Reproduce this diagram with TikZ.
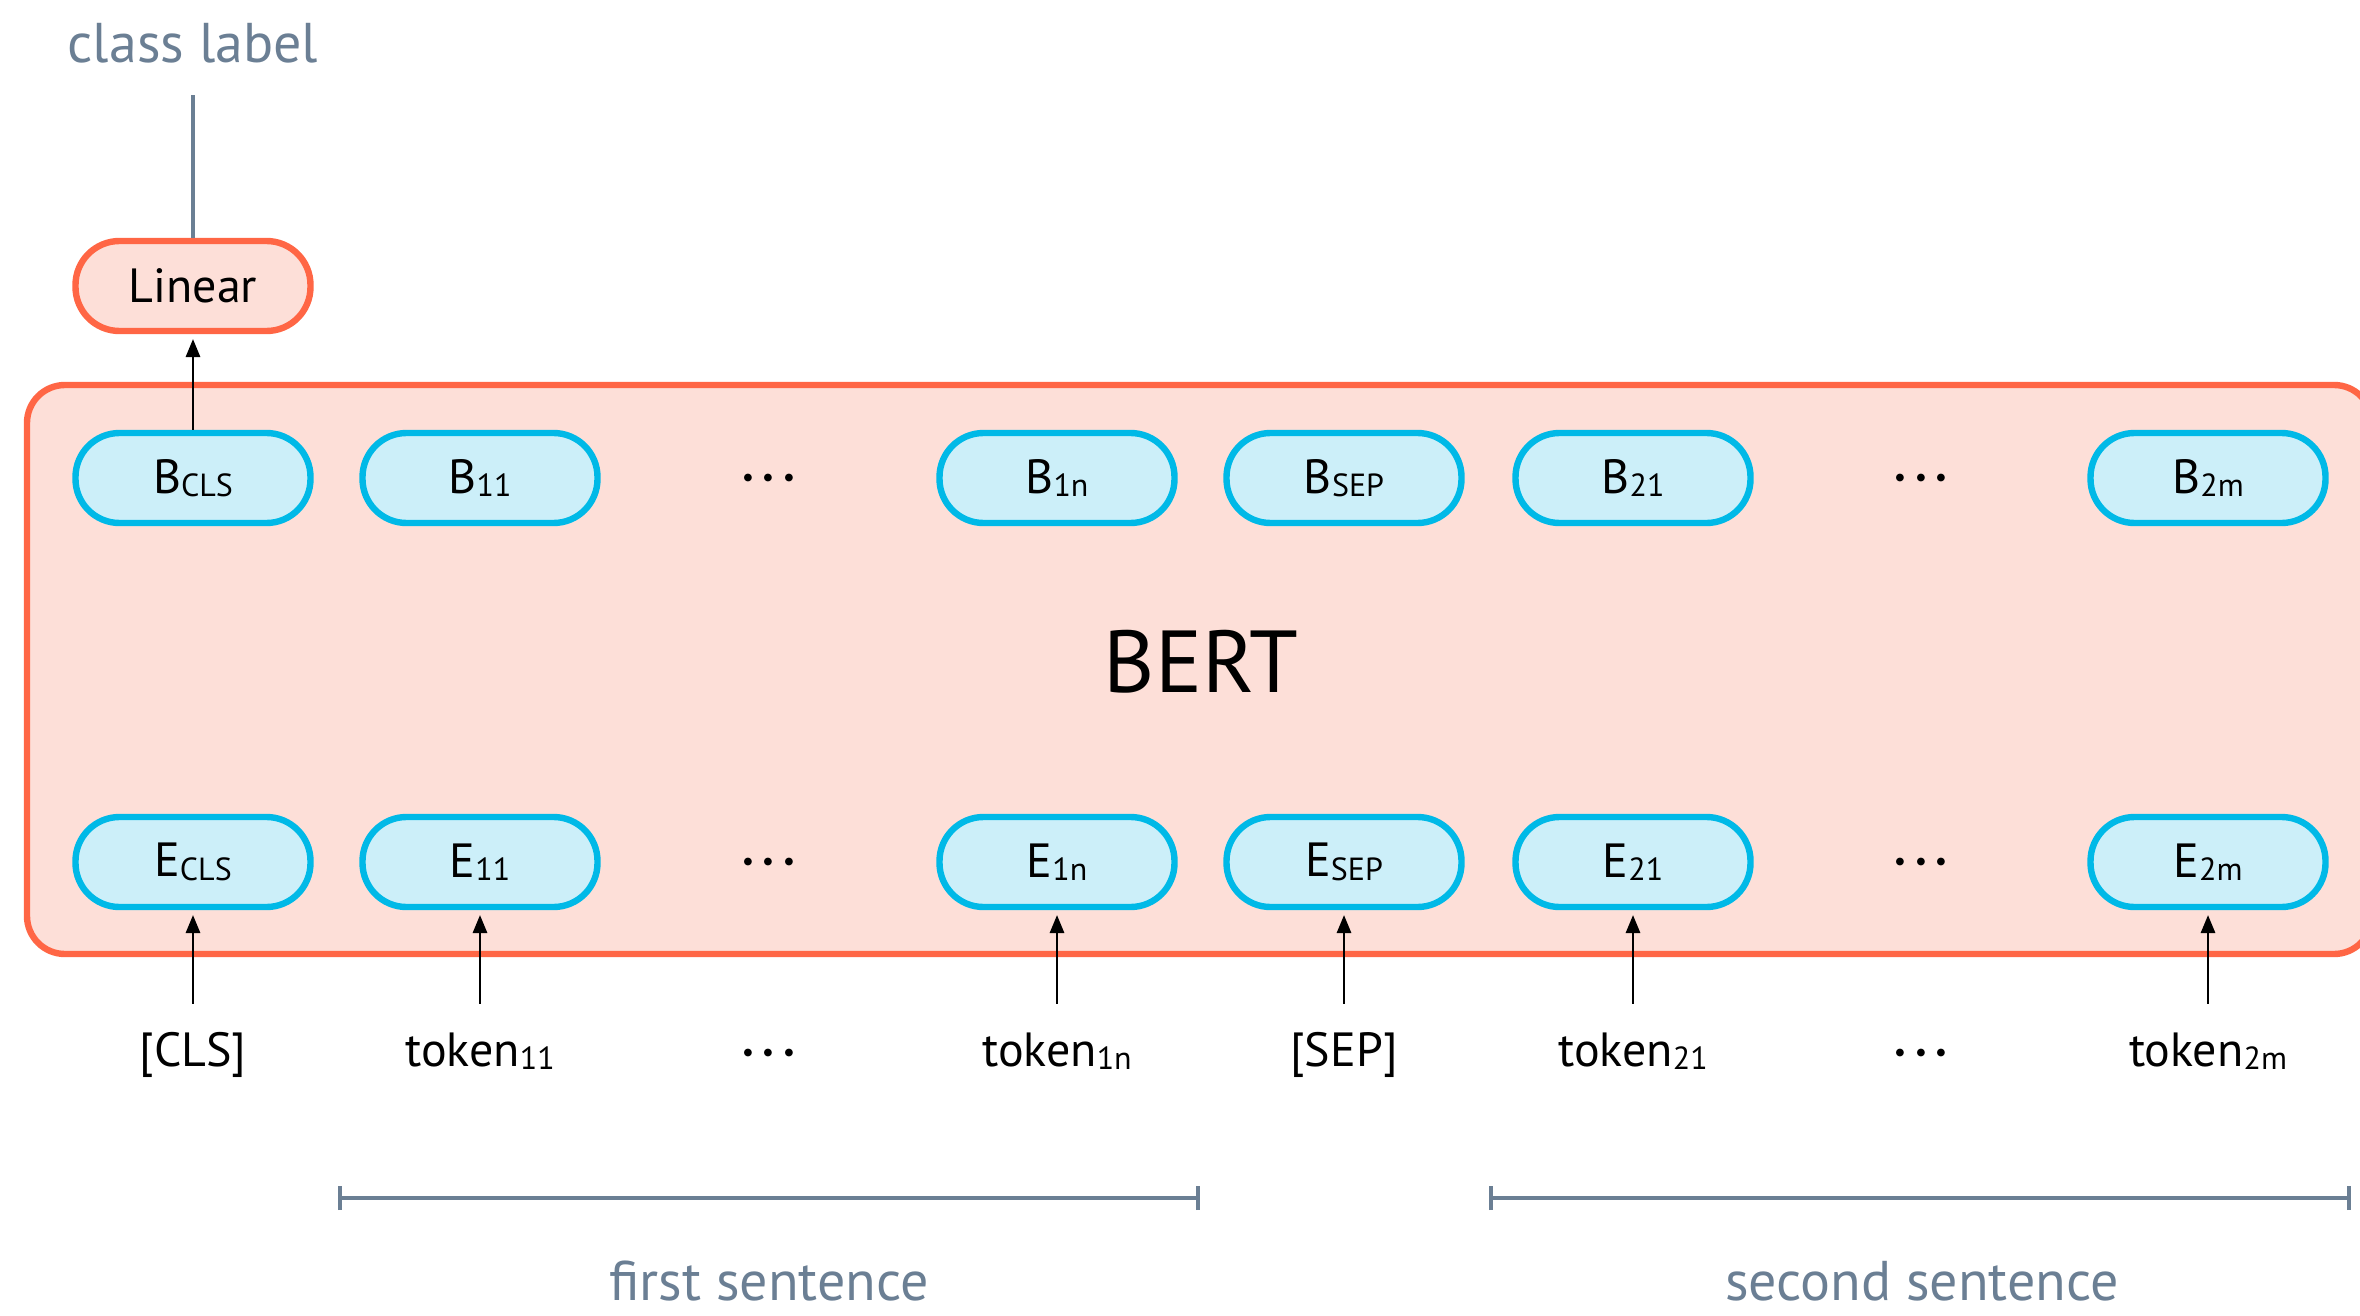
\documentclass[tikz,border=0pt]{standalone}
\usepackage{fontspec}
\setmainfont{PT Sans}
\usetikzlibrary{arrows.meta}
\definecolor{oborder}{HTML}{FF6645}
\definecolor{ofill}{HTML}{FDDFD8}
\definecolor{bborder}{HTML}{00B9E7}
\definecolor{bfill}{HTML}{CCEFF9}
\definecolor{graytxt}{HTML}{6B7F94}
\newcommand\sbs[1]{\raisebox{-1.8pt}{\fontsize{16}{18}\selectfont #1}}
\newcommand\mydots{${\cdot}\mkern1.5mu{\cdot}\mkern1.5mu{\cdot}$}
\tikzset{
  pill/.style={draw=bborder, fill=bfill, line width=3.2pt, rounded corners=22pt,
    minimum width=117.5pt, minimum height=45pt, inner sep=0pt,
    font=\fontsize{24}{28}\selectfont},
  linpill/.style={pill, draw=oborder, fill=ofill},
  tok/.style={font=\fontsize{24}{28}\selectfont, inner xsep=0pt, inner ysep=12pt,
    text height=19pt, text depth=5pt, anchor=base},
  dotsn/.style={font=\fontsize{24}{28}\selectfont\boldmath, inner sep=0pt, anchor=base},
  arr/.style={-{Triangle[length=9pt,width=7pt]}, line width=1.4pt, shorten >=2.4pt},
  graylbl/.style={text=graytxt, font=\fontsize{28}{32}\selectfont, inner sep=0pt,
    text depth=0pt, anchor=base},
  grayline/.style={draw=graytxt, line width=2pt},
}
\begin{document}
\begin{tikzpicture}[x=0.5pt,y=-0.5pt]
\useasboundingbox (0,0) rectangle (2360,1316);
\clip (0,0) rectangle (2360,1316);
% BERT box
\draw[draw=oborder, fill=ofill, line width=3.2pt, rounded corners=19pt]
  (27,385) rectangle (2372,954);
\node[font=\fontsize{44}{50}\selectfont, inner sep=0pt] (bert) at (1201,662) {BERT};
% Linear and class label
\node[linpill] (lin) at (193,286) {Linear};
\node[graylbl] (cl) at (193,63) {class label};
\draw[grayline, shorten <=16pt] (cl.south) -- (lin.north);
% B row
\node[pill] (b1) at (193,478) {B\sbs{CLS}};
\node[pill] (b2) at (480,478) {B\sbs{11}};
\node[dotsn] (bd1) at (769,490) {\mydots};
\node[pill] (b3) at (1057,478) {B\sbs{1n}};
\node[pill] (b4) at (1344,478) {B\sbs{SEP}};
\node[pill] (b5) at (1633,478) {B\sbs{21}};
\node[dotsn] (bd2) at (1921,490) {\mydots};
\node[pill] (b6) at (2208,478) {B\sbs{2m}};
% E row
\node[pill] (e1) at (193,862) {E\sbs{CLS}};
\node[pill] (e2) at (480,862) {E\sbs{11}};
\node[dotsn] (ed1) at (769,874) {\mydots};
\node[pill] (e3) at (1057,862) {E\sbs{1n}};
\node[pill] (e4) at (1344,862) {E\sbs{SEP}};
\node[pill] (e5) at (1633,862) {E\sbs{21}};
\node[dotsn] (ed2) at (1921,874) {\mydots};
\node[pill] (e6) at (2208,862) {E\sbs{2m}};
% tokens
\node[tok] (t1) at (193,1066) {[CLS]};
\node[tok] (t2) at (480,1066) {token\sbs{11}};
\node[dotsn] (td1) at (769,1065) {\mydots};
\node[tok] (t3) at (1057,1066) {token\sbs{1n}};
\node[tok] (t4) at (1344,1066) {[SEP]};
\node[tok] (t5) at (1633,1066) {token\sbs{21}};
\node[dotsn] (td2) at (1921,1065) {\mydots};
\node[tok] (t6) at (2208,1066) {token\sbs{2m}};
% arrows
\draw[arr] (b1.north) -- (lin.south);
\foreach \i in {1,...,6}{
  \draw[arr] (t\i.north -| e\i.south) -- (e\i.south);
}
% sentence brackets
\coordinate (s1a) at (340,1198);
\coordinate (s1b) at (1198,1198);
\coordinate (s2a) at (1491,1198);
\coordinate (s2b) at (2349,1198);
\draw[grayline] (s1a) -- (s1b);
\draw[grayline] ([yshift=-6pt]s1a) -- ([yshift=6pt]s1a);
\draw[grayline] ([yshift=-6pt]s1b) -- ([yshift=6pt]s1b);
\draw[grayline] (s2a) -- (s2b);
\draw[grayline] ([yshift=-6pt]s2a) -- ([yshift=6pt]s2a);
\draw[grayline] ([yshift=-6pt]s2b) -- ([yshift=6pt]s2b);
\node[graylbl] (fs) at (769,1300) {first sentence};
\node[graylbl] (ss) at (1922,1300) {second sentence};
\end{tikzpicture}
\end{document}
